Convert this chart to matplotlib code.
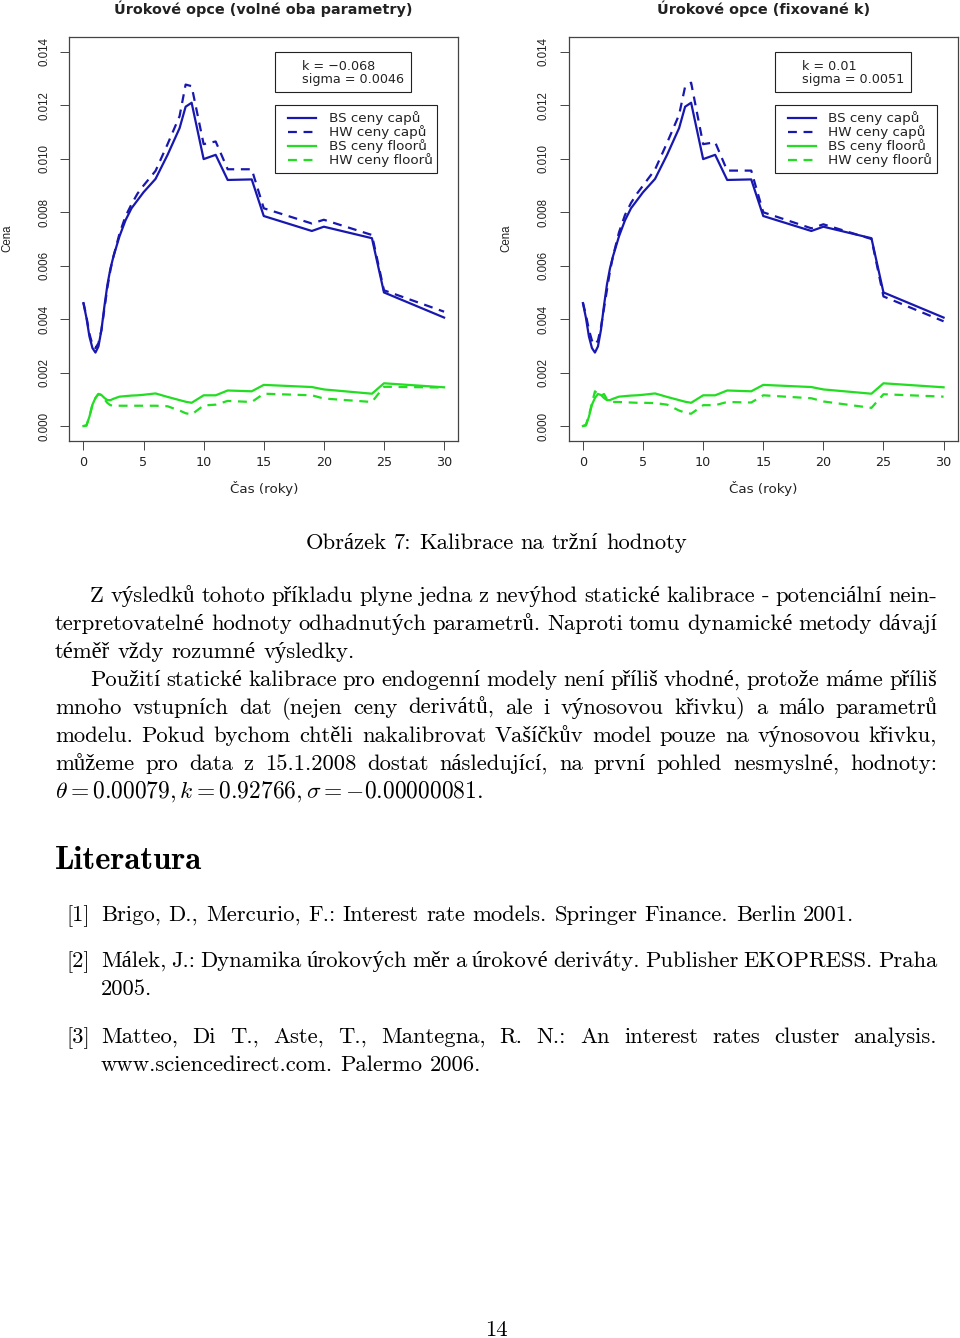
import matplotlib
matplotlib.use("Agg")
import matplotlib.pyplot as plt
import matplotlib.transforms as mtransforms
from matplotlib.lines import Line2D
from matplotlib.patches import Rectangle

# maturities (years)
t = [0, 0.25, 0.5, 0.75, 1, 1.25, 1.5, 1.75, 2, 2.25, 2.5, 3, 3.5, 4, 4.5, 5,
     6, 7, 8, 8.5, 9, 10, 11, 12, 14, 15, 19, 20, 24, 25, 30]

# market (BS) prices, same in both panels, in 1e-3
bs_cap = [4.60, 4.05, 3.35, 2.92, 2.75, 2.98, 3.60, 4.50, 5.30, 5.90, 6.35, 7.10, 7.70, 8.15, 8.45, 8.75,
          9.25, 10.15, 11.15, 11.95, 12.10, 9.99, 10.15, 9.21, 9.23, 7.86, 7.30, 7.46, 7.03, 5.00, 4.06]
bs_floor = [0.00, 0.02, 0.35, 0.80, 1.05, 1.20, 1.16, 1.05, 0.97, 0.97, 1.02, 1.10, 1.12, 1.14, 1.15, 1.17,
            1.22, 1.09, 0.97, 0.91, 0.87, 1.15, 1.15, 1.33, 1.30, 1.54, 1.46, 1.37, 1.21, 1.60, 1.45]

# Hull-White prices, left panel (both parameters free)
hw_cap_free = [4.62, 4.10, 3.45, 3.05, 2.92, 3.10, 3.60, 4.40, 5.20, 5.85, 6.35, 7.20, 7.85, 8.30, 8.70, 9.00,
               9.55, 10.55, 11.60, 12.78, 12.72, 10.55, 10.65, 9.61, 9.61, 8.15, 7.58, 7.72, 7.15, 5.08, 4.28]
hw_floor_free = [0.00, 0.02, 0.35, 0.80, 1.05, 1.20, 1.16, 1.00, 0.86, 0.78, 0.76, 0.76, 0.76, 0.76, 0.76, 0.76,
                 0.76, 0.74, 0.58, 0.48, 0.43, 0.77, 0.80, 0.94, 0.90, 1.21, 1.15, 1.03, 0.90, 1.47, 1.44]

# Hull-White prices, right panel (fixed k)
hw_cap_fix = [4.62, 4.15, 3.60, 3.20, 3.05, 3.20, 3.70, 4.40, 5.10, 5.80, 6.35, 7.25, 7.90, 8.35, 8.70, 9.00,
              9.60, 10.60, 11.65, 12.70, 12.85, 10.55, 10.62, 9.56, 9.56, 8.00, 7.40, 7.55, 7.00, 4.85, 3.92]
hw_floor_fix = [0.00, 0.05, 0.40, 0.85, 1.30, 1.20, 1.12, 1.20, 1.00, 0.93, 0.90, 0.90, 0.89, 0.88, 0.87, 0.87,
                0.86, 0.80, 0.58, 0.50, 0.46, 0.78, 0.78, 0.90, 0.88, 1.15, 1.04, 0.92, 0.68, 1.19, 1.10]

titles = ["Úrokové opce (volné oba parametry)", "Úrokové opce (fixované k)"]
params = [["k = \u22120.068", "sigma = 0.0046"], ["k = 0.01", "sigma = 0.0051"]]
legend_labels = ["BS ceny capů", "HW ceny capů", "BS ceny floorů", "HW ceny floorů"]
yticks = [0, 0.002, 0.004, 0.006, 0.008, 0.010, 0.012, 0.014]
xticks = [0, 5, 10, 15, 20, 25, 30]

caption = "Obrázek 7: Kalibrace na tržní hodnoty"
para_lines = [
    "Z výsledků tohoto příkladu plyne jedna z nevýhod statické kalibrace - potenciální nein-",
    "terpretovatelné hodnoty odhadnutých parametrů. Naproti tomu dynamické metody dávají",
    "téměř vždy rozumné výsledky.",
    "Použití statické kalibrace pro endogenní modely není příliš vhodné, protože máme příliš",
    "mnoho vstupních dat (nejen ceny derivátů, ale i výnosovou křivku) a málo parametrů",
    "modelu. Pokud bychom chtěli nakalibrovat Vašíčkův model pouze na výnosovou křivku,",
    "můžeme pro data z 15.1.2008 dostat následující, na první pohled nesmyslné, hodnoty:",
]
math_line = r"$\theta = 0.00079, k = 0.92766, \sigma = -0.00000081.$"
refs = [
    ("[1]", ["Brigo, D., Mercurio, F.: Interest rate models. Springer Finance. Berlin 2001."]),
    ("[2]", ["Málek, J.: Dynamika úrokových měr a úrokové deriváty. Publisher EKOPRESS. Praha",
             "2005."]),
    ("[3]", ["Matteo, Di T., Aste, T., Mantegna, R. N.: An interest rates cluster analysis.",
             "www.sciencedirect.com. Palermo 2006."]),
]

BLUE = "#1818b0"
GREEN = "#22dd22"
INK = "#222222"
BODY = ["cmr10", "Liberation Serif"]
FS = 16.3
plt.rcParams["mathtext.fontset"] = "cm"

W, H = 960, 1338
fig = plt.figure(figsize=(W / 100, H / 100), dpi=100)
# pixel coordinates, origin top-left, like the reference page
PX = mtransforms.Affine2D().scale(1 / W, -1 / H).translate(0, 1) + fig.transFigure

panels = [(69, hw_cap_free, hw_floor_free), (568.5, hw_cap_fix, hw_floor_fix)]
ax_top, ax_bot = 37, 441

for i, (left, hw_cap, hw_floor) in enumerate(panels):
    ax = fig.add_axes([left / W, 1 - ax_bot / H, 389.5 / W, (ax_bot - ax_top) / H])
    sc = lambda v: [x / 1000 for x in v]
    ax.plot(t, sc(bs_cap), color=BLUE, lw=1.6)
    ax.plot(t, sc(hw_cap), color=BLUE, lw=1.6, ls=(0, (4, 3)))
    ax.plot(t, sc(bs_floor), color=GREEN, lw=1.6)
    ax.plot(t, sc(hw_floor), color=GREEN, lw=1.6, ls=(0, (4, 3)))
    ax.set_xlim(-1.2, 31.2)
    ax.set_ylim(-0.00056, 0.01456)
    ax.set_xticks(xticks)
    ax.set_yticks(yticks)
    ax.set_yticklabels(["%.3f" % v for v in yticks], rotation=90, va="center",
                       family="Liberation Sans", fontsize=8.3, color=INK)
    ax.set_xticklabels([str(v) for v in xticks], family="DejaVu Sans", fontsize=9.2, color=INK)
    ax.tick_params(axis="both", length=6.5, width=0.7, color="#444444")
    ax.tick_params(axis="x", pad=4)
    ax.tick_params(axis="y", pad=7)
    for s in ax.spines.values():
        s.set_color("#444444")
        s.set_linewidth(0.9)

    dx = left - 69
    cx = left + 389.5 / 2
    fig.text(cx, 9, titles[i], transform=PX, ha="center", va="center",
             family="DejaVu Sans", fontweight="bold", fontsize=10.4, color=INK)
    fig.text(cx, 488, "Čas (roky)", transform=PX, ha="center", va="center",
             family="DejaVu Sans", fontsize=9.7, color=INK)
    fig.text(7 + dx, 238, "Cena", transform=PX, ha="center", va="center", rotation=90,
             family="Liberation Sans", fontsize=8.3, color=INK)

    # parameter box
    fig.add_artist(Rectangle((275 + dx, 52), 136, 40, transform=PX, fill=False, ec=INK, lw=0.8))
    for j, s in enumerate(params[i]):
        fig.text(302 + dx, 66 + 13.5 * j, s, transform=PX, ha="left", va="center",
                 family="DejaVu Sans", fontsize=9.2, color=INK)

    # legend box
    fig.add_artist(Rectangle((275 + dx, 105), 162, 68, transform=PX, fill=False, ec=INK, lw=0.8))
    styles = [(BLUE, "-"), (BLUE, (0, (4, 3))), (GREEN, "-"), (GREEN, (0, (4, 3)))]
    for j, (lab, (c, ls)) in enumerate(zip(legend_labels, styles)):
        y = 118 + 14 * j
        fig.add_artist(Line2D([288 + dx, 316 + dx], [y, y], transform=PX, color=c, lw=1.6, ls=ls))
        fig.text(329 + dx, y, lab, transform=PX, ha="left", va="center",
                 family="DejaVu Sans", fontsize=9.7, color=INK)

renderer = fig.canvas.get_renderer()


def put_words(text, x0, y, x1=None, fs=FS, family=BODY, gap=7.5, center=None):
    # place word by word so lines can be justified like in LaTeX
    words = text.split(" ")
    objs = [fig.text(0, y, w, transform=PX, fontsize=fs, family=family,
                     ha="left", va="baseline", color="black") for w in words]
    widths = [o.get_window_extent(renderer).width for o in objs]
    if x1 is not None and len(words) > 1:
        gap = (x1 - x0 - sum(widths)) / (len(words) - 1)
    if center is not None:
        x0 = center - (sum(widths) + gap * (len(words) - 1)) / 2
    x = x0
    for o, w in zip(objs, widths):
        o.set_x(x)
        x += w + gap


RIGHT = 937
put_words(caption, 0, 549, center=496)

base = 602
starts = [90, 55, 55, 90, 55, 55, 55]
justify = [True, True, False, True, True, True, True]
for k, line in enumerate(para_lines):
    put_words(line, starts[k], base + 28 * k, RIGHT if justify[k] else None)
fig.text(55, base + 28 * 7, math_line, transform=PX, fontsize=16.9, ha="left", va="baseline")

fig.text(55, 869, "Literatura", transform=PX, fontsize=23.5, family="cmb10",
         ha="left", va="baseline")

ref_base = [[921], [967, 995], [1043, 1071]]
for (num, lines), ys in zip(refs, ref_base):
    put_words(num, 66, ys[0])
    for n, (line, y) in enumerate(zip(lines, ys)):
        last = n == len(lines) - 1
        put_words(line, 101, y, None if last else RIGHT)

put_words("14", 0, 1336, center=496)

fig.savefig("out.png", dpi=100)
